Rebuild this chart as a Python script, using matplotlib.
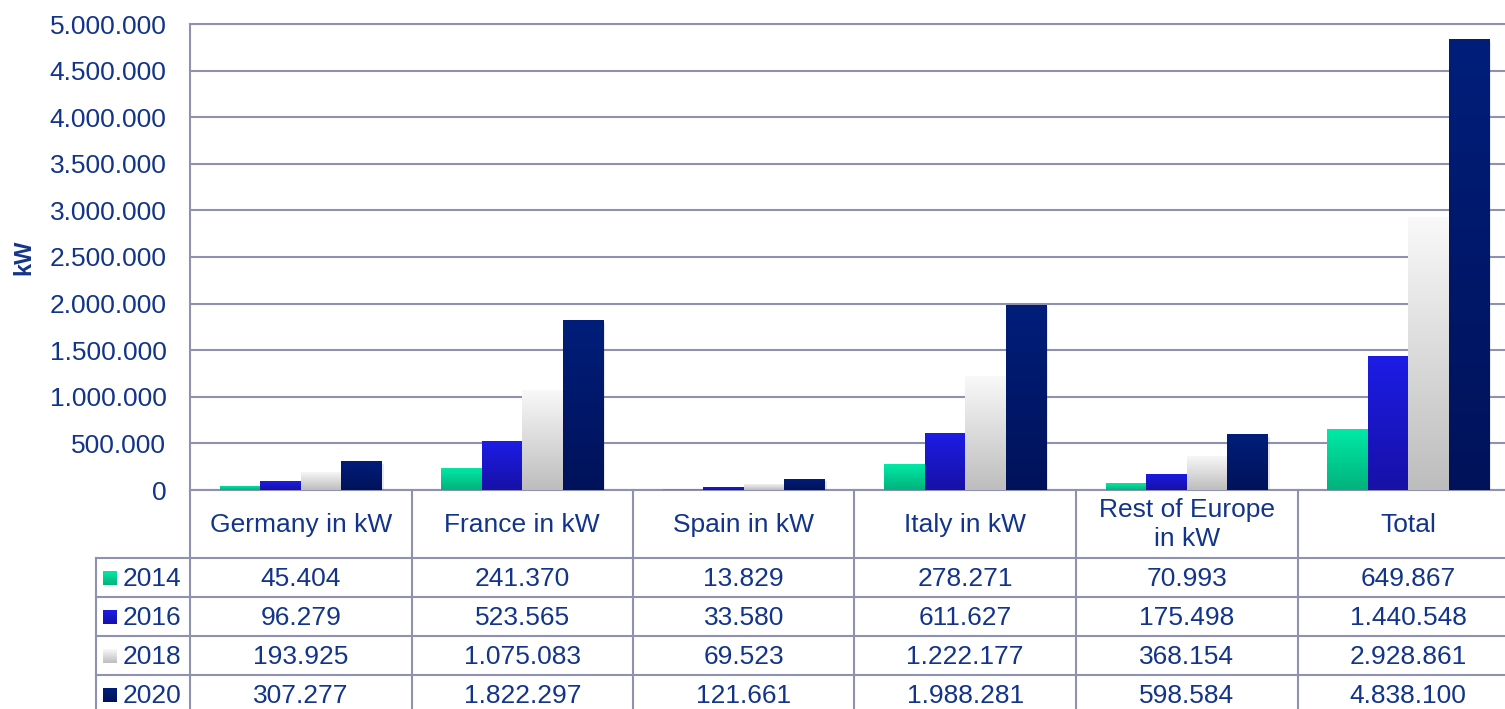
import numpy as np
import matplotlib
matplotlib.use('Agg')
import matplotlib.pyplot as plt
from matplotlib.colors import LinearSegmentedColormap
from matplotlib import patheffects as pe
from matplotlib.patches import Rectangle

plt.rcParams['font.family'] = ['Liberation Sans', 'DejaVu Sans']

categories = ['Germany in kW', 'France in kW', 'Spain in kW', 'Italy in kW',
              'Rest of Europe\nin kW', 'Total']
years = ['2014', '2016', '2018', '2020']
v2014 = [45404, 241370, 13829, 278271, 70993, 649867]
v2016 = [96279, 523565, 33580, 611627, 175498, 1440548]
v2018 = [193925, 1075083, 69523, 1222177, 368154, 2928861]
v2020 = [307277, 1822297, 121661, 1988281, 598584, 4838100]
series = [v2014, v2016, v2018, v2020]
yticks = [0, 500000, 1000000, 1500000, 2000000, 2500000, 3000000,
          3500000, 4000000, 4500000, 5000000]

# gradient (bottom, top) colours per series
grads = [('#00b27c', '#00eaa6'), ('#1711a6', '#1c1ce6'),
         ('#bdbdbd', '#f9f9f9'), ('#00125a', '#001e7a')]
navy = '#12348a'
linec = '#8e92b0'
fs = 19

def fmt(v):
    return f'{v:,}'.replace(',', '.')

W, H = 1505, 709
fig = plt.figure(figsize=(W / 100, H / 100), dpi=100)

catw = 221.5
left_px, top_px, base_px = 190, 24, 490
ax = fig.add_axes([left_px / W, 1 - base_px / H, 6 * catw / W, (base_px - top_px) / H])
x = np.arange(len(categories))
bw = 0.183
offs = [-1.5, -0.5, 0.5, 1.5]
grad_img = np.linspace(0, 1, 256).reshape(-1, 1)
for s, vals in enumerate(series):
    cmap = LinearSegmentedColormap.from_list(f'g{s}', list(grads[s]))
    bars = ax.bar(x + offs[s] * bw, vals, width=bw, color=grads[s][0], zorder=3,
                  linewidth=0,
                  path_effects=[pe.SimplePatchShadow(offset=(1.5, -2), shadow_rgbFace='#666666', alpha=0.15),
                                pe.Normal()])
    for b in bars:
        x0, y0 = b.get_x(), b.get_y()
        im = ax.imshow(grad_img, cmap=cmap, origin='lower', aspect='auto',
                       extent=[x0, x0 + b.get_width(), y0, y0 + b.get_height()],
                       zorder=4, interpolation='bilinear')
        im.set_clip_path(b)

ax.set_xlim(-0.5, 5.5)
ax.set_ylim(0, 5000000)
ax.set_yticks(yticks)
ax.set_yticklabels([fmt(v) for v in yticks])
ax.set_xticks([])
ax.tick_params(axis='y', length=0, pad=17, labelsize=fs, labelcolor=navy)
ax.grid(axis='y', color=linec, linewidth=1.5, zorder=0)
ax.set_axisbelow(True)
for sp in ['top', 'bottom', 'left']:
    ax.spines[sp].set_color(linec)
    ax.spines[sp].set_linewidth(1.5)
ax.spines['right'].set_visible(False)
ax.set_ylabel('kW', fontsize=17, fontweight='bold', color=navy)
ax.yaxis.set_label_coords(-0.116, 0.5)

# data table
legw_px = 94
xleft = -0.5 - legw_px / catw
rowh = 39.0
ybottom = (H - base_px) / rowh
hh = 68 / rowh
tax = fig.add_axes([(left_px - legw_px) / W, 0, (legw_px + 6 * catw) / W, (H - base_px) / H])
tax.set_xlim(xleft, 5.5)
tax.set_ylim(ybottom, 0)
tax.axis('off')
lw = 1.5
for i in range(7):
    tax.plot([i - 0.5, i - 0.5], [0, ybottom], color=linec, lw=lw, clip_on=False)
tax.plot([xleft, xleft], [hh, ybottom], color=linec, lw=lw, clip_on=False)
for r in range(4):
    tax.plot([xleft, 5.5], [hh + r, hh + r], color=linec, lw=lw, clip_on=False)

for i, c in enumerate(categories):
    tax.text(i, hh / 2 + 0.02, c, ha='center', va='center', fontsize=fs, color=navy,
             linespacing=1.25)
for r, vals in enumerate(series):
    yc = hh + r + 0.5
    for i, v in enumerate(vals):
        tax.text(i, yc + 0.03, fmt(v), ha='center', va='center', fontsize=fs, color=navy)
    sq = 14 / catw
    sqh = 14 / rowh
    sx0 = xleft + 7 / catw
    rect = Rectangle((sx0, yc - sqh / 2 + 0.02), sq, sqh, facecolor=grads[r][0],
                     linewidth=0, zorder=2)
    tax.add_patch(rect)
    cmap = LinearSegmentedColormap.from_list(f'l{r}', list(grads[r]))
    im = tax.imshow(grad_img, cmap=cmap, origin='lower', aspect='auto',
                    extent=[sx0, sx0 + sq, yc + sqh / 2 + 0.02, yc - sqh / 2 + 0.02],
                    interpolation='bilinear', zorder=3)
    im.set_clip_path(rect)
    tax.text(xleft + 27 / catw, yc + 0.03, years[r], ha='left', va='center', fontsize=fs, color=navy)
tax.set_xlim(xleft, 5.5)
tax.set_ylim(ybottom, 0)

fig.savefig('out.png', dpi=100)
